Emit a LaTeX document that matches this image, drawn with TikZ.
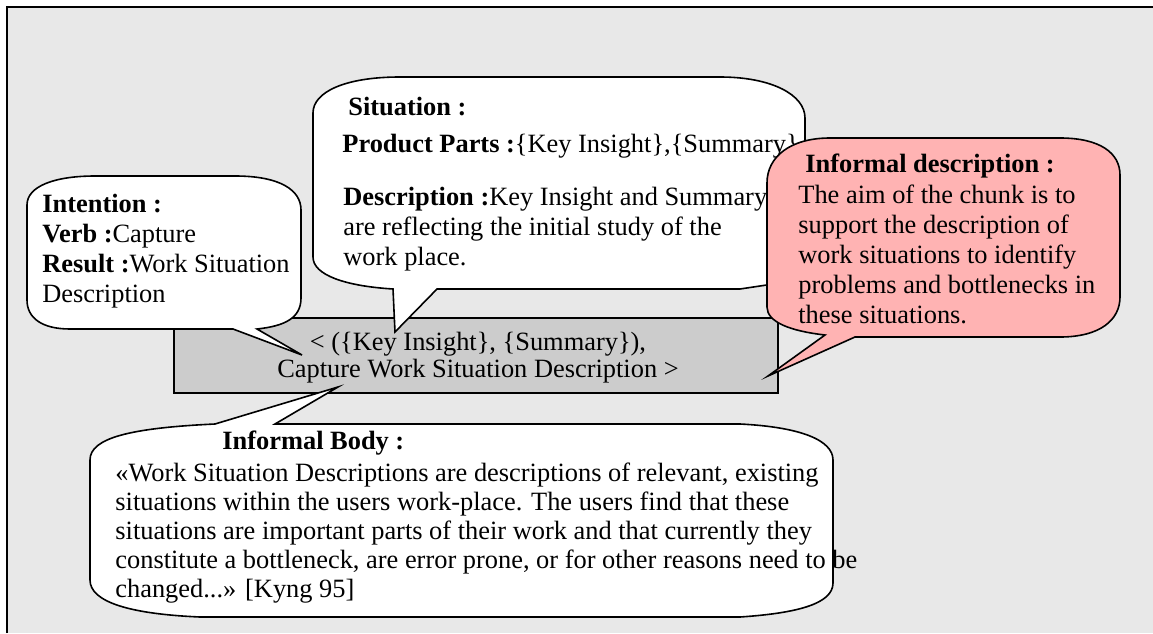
\documentclass[tikz,border=0pt]{standalone}
\usepackage{fontspec}
\setmainfont{Liberation Serif}
\definecolor{panel}{RGB}{232,232,232}
\definecolor{chunk}{RGB}{204,204,204}
\definecolor{note}{RGB}{255,179,179}
\begin{document}
\begin{tikzpicture}[x=0.5pt,y=-0.5pt,
  frame/.style={line width=1pt},
  bubble/.style={draw=black,line width=0.8pt,fill=white,line join=miter},
  notebubble/.style={bubble,fill=note},
  chunkbox/.style={draw=black,line width=0.8pt,fill=chunk,inner sep=0pt},
  txt/.style={anchor=base west,inner sep=0pt,font=\fontsize{13.2}{15}\selectfont},
  ctxt/.style={anchor=base,inner sep=0pt,font=\fontsize{13.2}{15}\selectfont}]
\useasboundingbox (0,0) rectangle (1153,633);
\fill[white] (0,0) rectangle (1153,633);
\fill[panel] (7,7) rectangle (1153,633);
\draw[frame] (7,633) -- (7,7) -- (1153,7);

% the chunk itself
\node[chunkbox,minimum width=302pt,minimum height=37.5pt] (chunk) at (476,355.5) {};
\node[ctxt] (chunkA) at (478,350) {< (\{Key Insight\}, \{Summary\}),};
\node[ctxt] (chunkB) at (478,377) {Capture Work Situation Description >};

% intention callout
\draw[bubble] (27,205) .. controls (27,186) and (55,176) .. (95,176) -- (235,176)
  .. controls (280,176) and (301,190) .. (301,210) -- (301,298)
  .. controls (301,318) and (285,326) .. (257,329) -- (302,355) -- (233,329) -- (70,329)
  .. controls (42,329) and (27,318) .. (27,300) -- cycle;
\node[txt] (int1) at (42,212.7) {\textbf{Intention :}};
\node[txt] (int2) at (42,242.7) {\textbf{Verb :}Capture};
\node[txt] (int3) at (42,272.7) {\textbf{Result :}Work Situation};
\node[txt] (int4) at (42,302) {Description};

% situation callout
\draw[bubble] (313,113) .. controls (313,92) and (345,77) .. (400,77) -- (720,77)
  .. controls (772,77) and (805,95) .. (805,118) -- (805,255)
  .. controls (805,272) and (790,282) .. (760,286) -- (740,289) -- (437,289) -- (395,332) -- (393,289)
  .. controls (345,286) and (313,275) .. (313,257) -- cycle;
\node[txt] (sit1) at (348,115) {\textbf{Situation :}};
\node[txt] (sit2) at (342,152.7) {\textbf{Product Parts :}\{Key Insight\},\{Summary\}};
\node[txt] (sit3) at (343,205) {\textbf{Description :}Key Insight and Summary};
\node[txt] (sit4) at (343,235) {are reflecting the initial study of the};
\node[txt] (sit5) at (343,265) {work place.};

% informal description callout
\draw[notebubble] (767,183) .. controls (767,157) and (790,138) .. (830,138) -- (1060,138)
  .. controls (1100,138) and (1120,153) .. (1120,175) -- (1120,297)
  .. controls (1120,320) and (1100,337) .. (1060,337) -- (855,337) -- (768,376) -- (825,335)
  .. controls (790,331) and (767,322) .. (767,307) -- cycle;
\node[txt] (inf1) at (805,172.7) {\textbf{Informal description :}};
\node[txt] (inf2) at (798,203) {The aim of the chunk is to};
\node[txt] (inf3) at (798,233) {support the description of};
\node[txt] (inf4) at (798,263) {work situations to identify};
\node[txt] (inf5) at (798,293) {problems and bottlenecks in};
\node[txt] (inf6) at (798,323) {these situations.};

% informal body callout
\draw[bubble] (90,460) .. controls (90,438) and (130,428) .. (215,424) -- (338,387) -- (275,424) -- (740,424)
  .. controls (800,427) and (833,440) .. (833,460) -- (833,583)
  .. controls (833,603) and (800,613) .. (740,617) -- (200,617)
  .. controls (130,614) and (90,602) .. (90,580) -- cycle;
\node[txt] (body0) at (222,449) {\textbf{Informal Body :}};
\node[txt] (body1) at (115,481) {«Work Situation Descriptions are descriptions of relevant, existing};
\node[txt] (body2) at (115,510) {situations within the users work-place. The users find that these};
\node[txt] (body3) at (115,539) {situations are important parts of their work and that currently they};
\node[txt] (body4) at (115,568) {constitute a bottleneck, are error prone, or for other reasons need to be};
\node[txt] (body5) at (115,597) {changed...» [Kyng 95]};
\end{tikzpicture}
\end{document}
